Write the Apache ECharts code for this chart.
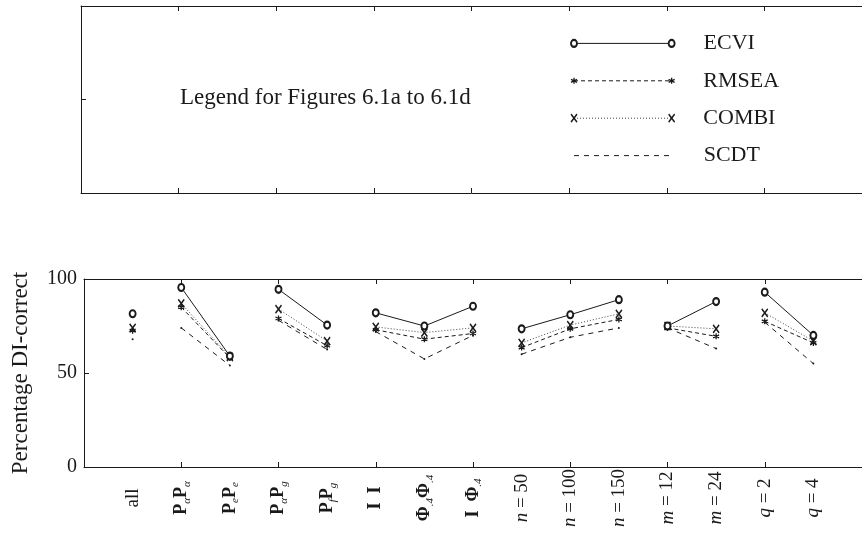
<!DOCTYPE html>
<html>
<head>
<meta charset="utf-8">
<script src="https://cdn.jsdelivr.net/npm/echarts@6/dist/echarts.min.js"></script>
<style>
  html, body { margin: 0; padding: 0; background: #fff; }
  #chart { width: 862px; height: 533px; }
</style>
</head>
<body>
<div id="chart"></div>
<script>
// Design conditions along the horizontal axis, in plotting order
const categories = ['all', 'PaPa', 'PePe', 'PaPg', 'PfPg', 'I I', 'Phi4Phi4', 'I Phi4',
  'n=50', 'n=100', 'n=150', 'm=12', 'm=24', 'q=2', 'q=4'];
// Consecutive conditions that belong to one comparison (joined by lines)
const groupSizes = [1, 2, 2, 3, 3, 2, 2];

// Tick labels (rich text: b = bold symbol, s = subscript, i = italic)
const tickLabels = [
  'all',
  '{b|P}{s|α}{b|P}{s|α}',
  '{b|P}{s|e}{b|P}{s|e}',
  '{b|P}{s|α}{b|P}{s|g}',
  '{b|P}{s|f}{b|P}{s|g}',
  '{b|I  I}',
  '{b|Φ}{s|.4}{b|Φ}{s|.4}',
  '{b|I  Φ}{s|.4}',
  '{i|n} = 50', '{i|n} = 100', '{i|n} = 150',
  '{i|m} = 12', '{i|m} = 24',
  '{i|q} = 2', '{i|q} = 4'
];

// Percentage DI-correct per criterion
const ecvi  = [81.5, 95.5, 59.0, 94.5, 75.5, 82.0, 75.0, 85.5, 73.5, 81.0, 89.0, 75.0, 88.0, 93.0, 70.0];
const rmsea = [72.5, 85.0, 58.0, 79.0, 64.5, 73.0, 68.0, 71.0, 63.5, 73.5, 78.5, 74.0, 69.5, 77.5, 66.0];
const combi = [74.0, 87.0, 58.5, 84.0, 67.0, 74.5, 71.5, 74.0, 66.0, 75.5, 81.5, 75.0, 73.5, 82.0, 67.0];
const scdt  = [68.0, 74.0, 54.0, 78.0, 62.5, 72.0, 57.5, 70.0, 60.0, 69.0, 74.0, 74.0, 63.0, 77.0, 55.0];

const seriesNames = ['ECVI', 'RMSEA', 'COMBI', 'SCDT'];
const legendTitle = 'Legend for Figures 6.1a to 6.1d';
const yTicks = [0, 50, 100];

const SERIF = '"Liberation Serif", "DejaVu Serif", serif';
const INK = '#1a1a1a';

// Marker and line styles for each criterion
const styles = {
  ECVI:  { symbol: 'emptyCircle', symbolSize: [6, 7], border: 1,
           line: { type: 'solid', width: 1, color: INK } },
  RMSEA: { symbol: 'path://M5,0L5,10M0.7,2.5L9.3,7.5M0.7,7.5L9.3,2.5', symbolSize: 6, border: 1.3,
           line: { type: [4, 3], width: 1, color: INK } },
  COMBI: { symbol: 'path://M0,0L10,12M10,0L0,12', symbolSize: [6, 8], border: 1.6,
           line: { type: [1, 2], width: 1, color: '#444' } },
  SCDT:  { symbol: 'circle', symbolSize: 2, border: 0,
           line: { type: [5, 5], width: 1, color: INK } }
};

// Build [x, y] pairs with a gap between comparison groups so lines break there
function toPoints(values) {
  const out = [];
  let i = 0;
  groupSizes.forEach((n, g) => {
    if (g > 0) out.push([i + 0.5, '-']);
    for (let k = 0; k < n; k++, i++) out.push([i + 1, values[i]]);
  });
  return out;
}

const frameLine = { show: true, lineStyle: { color: INK, width: 1 } };
const inTick = { show: true, inside: true, length: 5, lineStyle: { color: INK, width: 1 } };

function frameX(gridIndex, position) {
  return {
    type: 'value', gridIndex, position, min: 0, max: 16, interval: 2,
    axisLine: frameLine, axisTick: inTick, axisLabel: { show: false },
    splitLine: { show: false }
  };
}

const chart = echarts.init(document.getElementById('chart'), null, { renderer: 'canvas' });

const dataByName = { ECVI: ecvi, RMSEA: rmsea, COMBI: combi, SCDT: scdt };

const plotSeries = seriesNames.map(name => {
  const st = styles[name];
  return {
    name, type: 'line', xAxisIndex: 0, yAxisIndex: 0,
    data: toPoints(dataByName[name]),
    symbol: st.symbol, symbolSize: st.symbolSize, showSymbol: true,
    connectNulls: false, animation: false,
    lineStyle: st.line,
    itemStyle: { color: INK, borderColor: INK, borderWidth: st.border },
    emphasis: { disabled: true }, z: name === 'ECVI' ? 5 : 3
  };
});

// Legend samples drawn inside the upper box (x in axis units, y in 0..1)
const legendRowY = [0.8, 0.6, 0.4, 0.2];
const legendSeries = seriesNames.map((name, k) => {
  const st = styles[name];
  const noMarker = name === 'SCDT';
  return {
    name: name + ' key', type: 'line', xAxisIndex: 3, yAxisIndex: 1,
    data: [
      { value: [10.1, legendRowY[k]] },
      { value: [12.1, legendRowY[k]],
        label: { show: true, position: 'right', distance: noMarker ? 32 : 28, formatter: name,
                 fontFamily: SERIF, fontSize: 22, color: INK } }
    ],
    symbol: st.symbol,
    symbolSize: noMarker ? 0.1 : st.symbolSize,
    showSymbol: true,
    lineStyle: st.line,
    itemStyle: { color: INK, borderColor: INK, borderWidth: st.border },
    animation: false, emphasis: { disabled: true }
  };
});

const option = {
  backgroundColor: '#fff',
  animation: false,
  textStyle: { fontFamily: SERIF },
  grid: [
    { left: 84, top: 279, height: 188, width: 790 },
    { left: 81, top: 6, height: 187, width: 790 }
  ],
  xAxis: [
    frameX(0, 'bottom'),
    frameX(0, 'top'),
    {
      type: 'value', gridIndex: 0, position: 'bottom', min: 0, max: 16, interval: 1,
      axisLine: { show: false }, axisTick: { show: false }, splitLine: { show: false },
      axisLabel: {
        show: true, rotate: 90, align: 'center', verticalAlign: 'middle', margin: 31,
        fontFamily: SERIF, fontSize: 19, color: INK,
        formatter: v => tickLabels[v - 1] || '',
        rich: {
          b: { fontFamily: SERIF, fontWeight: 'bold', fontSize: 18, lineHeight: 22, color: INK },
          s: { fontFamily: SERIF, fontStyle: 'italic', fontSize: 11, lineHeight: 11,
               verticalAlign: 'bottom', color: INK },
          i: { fontFamily: SERIF, fontStyle: 'italic', fontSize: 19, lineHeight: 22, color: INK }
        }
      }
    },
    frameX(1, 'bottom'),
    frameX(1, 'top')
  ],
  yAxis: [
    {
      type: 'value', gridIndex: 0, min: yTicks[0], max: yTicks[yTicks.length - 1], interval: 50,
      axisLine: frameLine, axisTick: inTick, splitLine: { show: false },
      axisLabel: { show: true, margin: 7, fontFamily: SERIF, fontSize: 20, color: INK },
      name: 'Percentage DI-correct', nameLocation: 'middle', nameRotate: 90, nameGap: 52,
      nameTextStyle: { fontFamily: SERIF, fontSize: 23, color: INK }
    },
    {
      type: 'value', gridIndex: 1, min: 0, max: 1, interval: 0.5,
      axisLine: frameLine, axisTick: inTick, splitLine: { show: false },
      axisLabel: { show: false }
    }
  ],
  graphic: [
    {
      type: 'text', x: 180, y: 98,
      style: { text: legendTitle, font: '23px ' + SERIF, fill: INK, verticalAlign: 'middle' }
    }
  ],
  series: plotSeries.concat(legendSeries)
};

chart.setOption(option);
</script>
</body>
</html>
